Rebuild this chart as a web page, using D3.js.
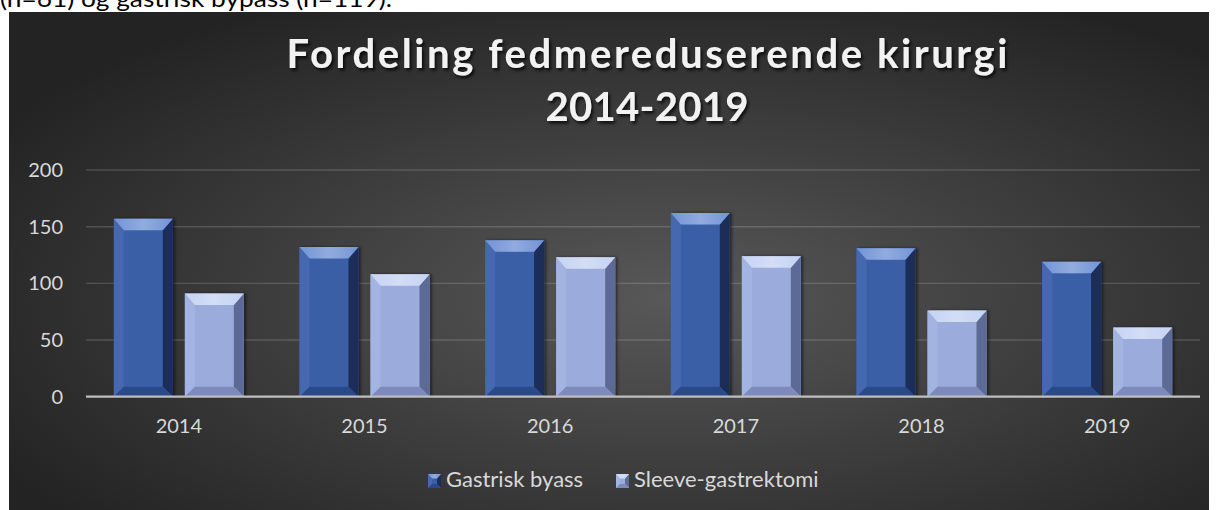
<!DOCTYPE html>
<html>
<head>
<meta charset="utf-8">
<script src="https://cdn.jsdelivr.net/npm/d3@7"></script>
<style>
body { margin: 0; background: #fff; }
svg { display: block; font-family: Lato, "Open Sans", sans-serif; }
</style>
</head>
<body>
<div id="chart"></div>
<script>
var years = ["2014", "2015", "2016", "2017", "2018", "2019"];
var seriesNames = ["Gastrisk byass", "Sleeve-gastrektomi"];
var gastriskBypass = [157, 132, 138, 162, 131, 119];
var sleeveGastrektomi = [91, 108, 123, 124, 76, 61];
var yTicks = [0, 50, 100, 150, 200];
var titleLines = ["Fordeling fedmereduserende kirurgi", "2014-2019"];
var noteText = "(n=61) og gastrisk bypass (n=119).";

var W = 1218, H = 510;
var margin = {top: 170, left: 86, right: 18, bottom: 113};

// bevel colours per series: face, top, left, right, bottom
var palettes = [
    {face: "#3b5fa7", top: "#7394d6", left: "#4568b0", right: "#1c2d58", bottom: "#2c4888"},
    {face: "#9aabdc", top: "#c6d4f3", left: "#a3b4e2", right: "#5d6b96", bottom: "#7b8bbb"}
];

var svg = d3.select("#chart").append("svg")
    .attr("width", W)
    .attr("height", H);

var defs = svg.append("defs");

var bg = defs.append("radialGradient")
    .attr("id", "bg")
    .attr("cx", "55%").attr("cy", "55%").attr("r", "65%");
bg.append("stop").attr("offset", "0%").attr("stop-color", "#585858");
bg.append("stop").attr("offset", "100%").attr("stop-color", "#232323");

var shadow = defs.append("filter").attr("id", "tshadow")
    .attr("x", "-5%").attr("y", "-20%").attr("width", "110%").attr("height", "150%");
shadow.append("feDropShadow")
    .attr("dx", 2).attr("dy", 2.5).attr("stdDeviation", 1.6)
    .attr("flood-color", "#000").attr("flood-opacity", 0.75);

var barShadow = defs.append("filter").attr("id", "bshadow")
    .attr("x", "-20%").attr("y", "-10%").attr("width", "140%").attr("height", "120%");
barShadow.append("feDropShadow")
    .attr("dx", 2).attr("dy", 0).attr("stdDeviation", 1.5)
    .attr("flood-color", "#000").attr("flood-opacity", 0.5);

// soft highlight on the top bevel
var topGlow = defs.append("linearGradient").attr("id", "topGlow")
    .attr("x1", 0).attr("x2", 1).attr("y1", 0).attr("y2", 0);
topGlow.append("stop").attr("offset", "0%").attr("stop-color", "#fff").attr("stop-opacity", 0);
topGlow.append("stop").attr("offset", "50%").attr("stop-color", "#fff").attr("stop-opacity", 0.22);
topGlow.append("stop").attr("offset", "100%").attr("stop-color", "#fff").attr("stop-opacity", 0);

// note text cut off at the top of the page
svg.append("text")
    .attr("x", 0)
    .attr("y", 7)
    .attr("textLength", 392)
    .attr("lengthAdjust", "spacingAndGlyphs")
    .style("font-size", "23px")
    .style("fill", "#000")
    .text(noteText);

// chart panel
svg.append("rect")
    .attr("x", 9).attr("y", 12)
    .attr("width", 1200).attr("height", 520)
    .attr("fill", "url(#bg)");

// title
var titleWidths = [721, 203];
svg.append("g").attr("filter", "url(#tshadow)")
    .selectAll("text")
    .data(titleLines)
    .enter().append("text")
    .attr("x", 647)
    .attr("y", function(d, i) { return 68 + i * 53; })
    .attr("text-anchor", "middle")
    .attr("textLength", function(d, i) { return titleWidths[i]; })
    .attr("lengthAdjust", "spacing")
    .style("font-size", "40px")
    .style("font-weight", "700")
    .style("fill", "#f2f2f2")
    .text(function(d) { return d; });

var width = W - margin.left - margin.right;

var x0 = d3.scaleBand()
    .domain(years)
    .range([margin.left, margin.left + width])
    .padding(0);

var groupW = x0.bandwidth() * 0.7;

var x1 = d3.scaleBand()
    .domain(seriesNames)
    .range([0, groupW])
    .paddingInner(0.17);

var y = d3.scaleLinear()
    .domain([0, 200])
    .range([396.7, margin.top]);

// gridlines
svg.append("g")
    .selectAll("line")
    .data(yTicks.filter(function(d) { return d > 0; }))
    .enter().append("line")
    .attr("x1", margin.left).attr("x2", margin.left + width)
    .attr("y1", function(d) { return y(d); })
    .attr("y2", function(d) { return y(d); })
    .attr("stroke", "rgba(255,255,255,0.16)")
    .attr("stroke-width", 1.4);

function bevelRect(g, x, y0, w, h, pal, b) {
    var bh = Math.min(b * 1.15, h / 2);
    b = Math.min(b, h / 2, w / 2);
    g.append("rect").attr("x", x).attr("y", y0).attr("width", w).attr("height", h).attr("fill", pal.face);
    var polys = [
        [[x, y0], [x + b, y0 + bh], [x + b, y0 + h - b], [x, y0 + h], pal.left],
        [[x + w, y0], [x + w - b, y0 + bh], [x + w - b, y0 + h - b], [x + w, y0 + h], pal.right],
        [[x, y0 + h], [x + w, y0 + h], [x + w - b, y0 + h - b], [x + b, y0 + h - b], pal.bottom],
        [[x, y0], [x + w, y0], [x + w - b, y0 + bh], [x + b, y0 + bh], pal.top]
    ];
    polys.forEach(function(p) {
        g.append("polygon")
            .attr("points", p.slice(0, 4).map(function(pt) { return pt.join(","); }).join(" "))
            .attr("fill", p[4]);
    });
    g.append("polygon")
        .attr("points", [[x, y0], [x + w, y0], [x + w - b, y0 + bh], [x + b, y0 + bh]].map(function(pt) { return pt.join(","); }).join(" "))
        .attr("fill", "url(#topGlow)");
}

var seriesData = [gastriskBypass, sleeveGastrektomi];

var bars = svg.append("g").attr("class", "bars");
years.forEach(function(yr, i) {
    var gx = x0(yr) + (x0.bandwidth() - groupW) / 2;
    seriesData.forEach(function(vals, s) {
        var bx = gx + x1(seriesNames[s]);
        var g = bars.append("g").attr("filter", "url(#bshadow)");
        bevelRect(g, bx, y(vals[i]), x1.bandwidth(), y(0) - y(vals[i]), palettes[s], 10);
    });
});

// axis line
svg.append("line")
    .attr("x1", margin.left).attr("x2", margin.left + width)
    .attr("y1", y(0)).attr("y2", y(0))
    .attr("stroke", "#bfbfbf")
    .attr("stroke-width", 2.2);

var yAxis = d3.axisLeft(y).tickValues(yTicks).tickSize(0).tickPadding(23);
var yg = svg.append("g")
    .attr("transform", "translate(" + margin.left + ",0)")
    .call(yAxis);
yg.select(".domain").remove();
yg.selectAll("text")
    .style("font-size", "20px")
    .style("font-family", "Lato, sans-serif")
    .style("fill", "#d9d9d9");

var xAxis = d3.axisBottom(x0).tickSize(0).tickPadding(22);
var xg = svg.append("g")
    .attr("transform", "translate(0," + y(0) + ")")
    .call(xAxis);
xg.select(".domain").remove();
xg.selectAll("text")
    .style("font-size", "20px")
    .style("font-family", "Lato, sans-serif")
    .style("fill", "#d9d9d9");

// legend
var legendX = [428, 616];
var legend = svg.append("g").selectAll("g")
    .data(seriesNames)
    .enter().append("g")
    .attr("transform", function(d, i) { return "translate(" + legendX[i] + ",474)"; });

legend.each(function(d, i) {
    bevelRect(d3.select(this), 0, 0, 13, 14, palettes[i], 4);
});

legend.append("text")
    .attr("x", 18)
    .attr("y", 13)
    .style("font-size", "22px")
    .style("fill", "#d9d9d9")
    .text(function(d) { return d; });
</script>
</body>
</html>
